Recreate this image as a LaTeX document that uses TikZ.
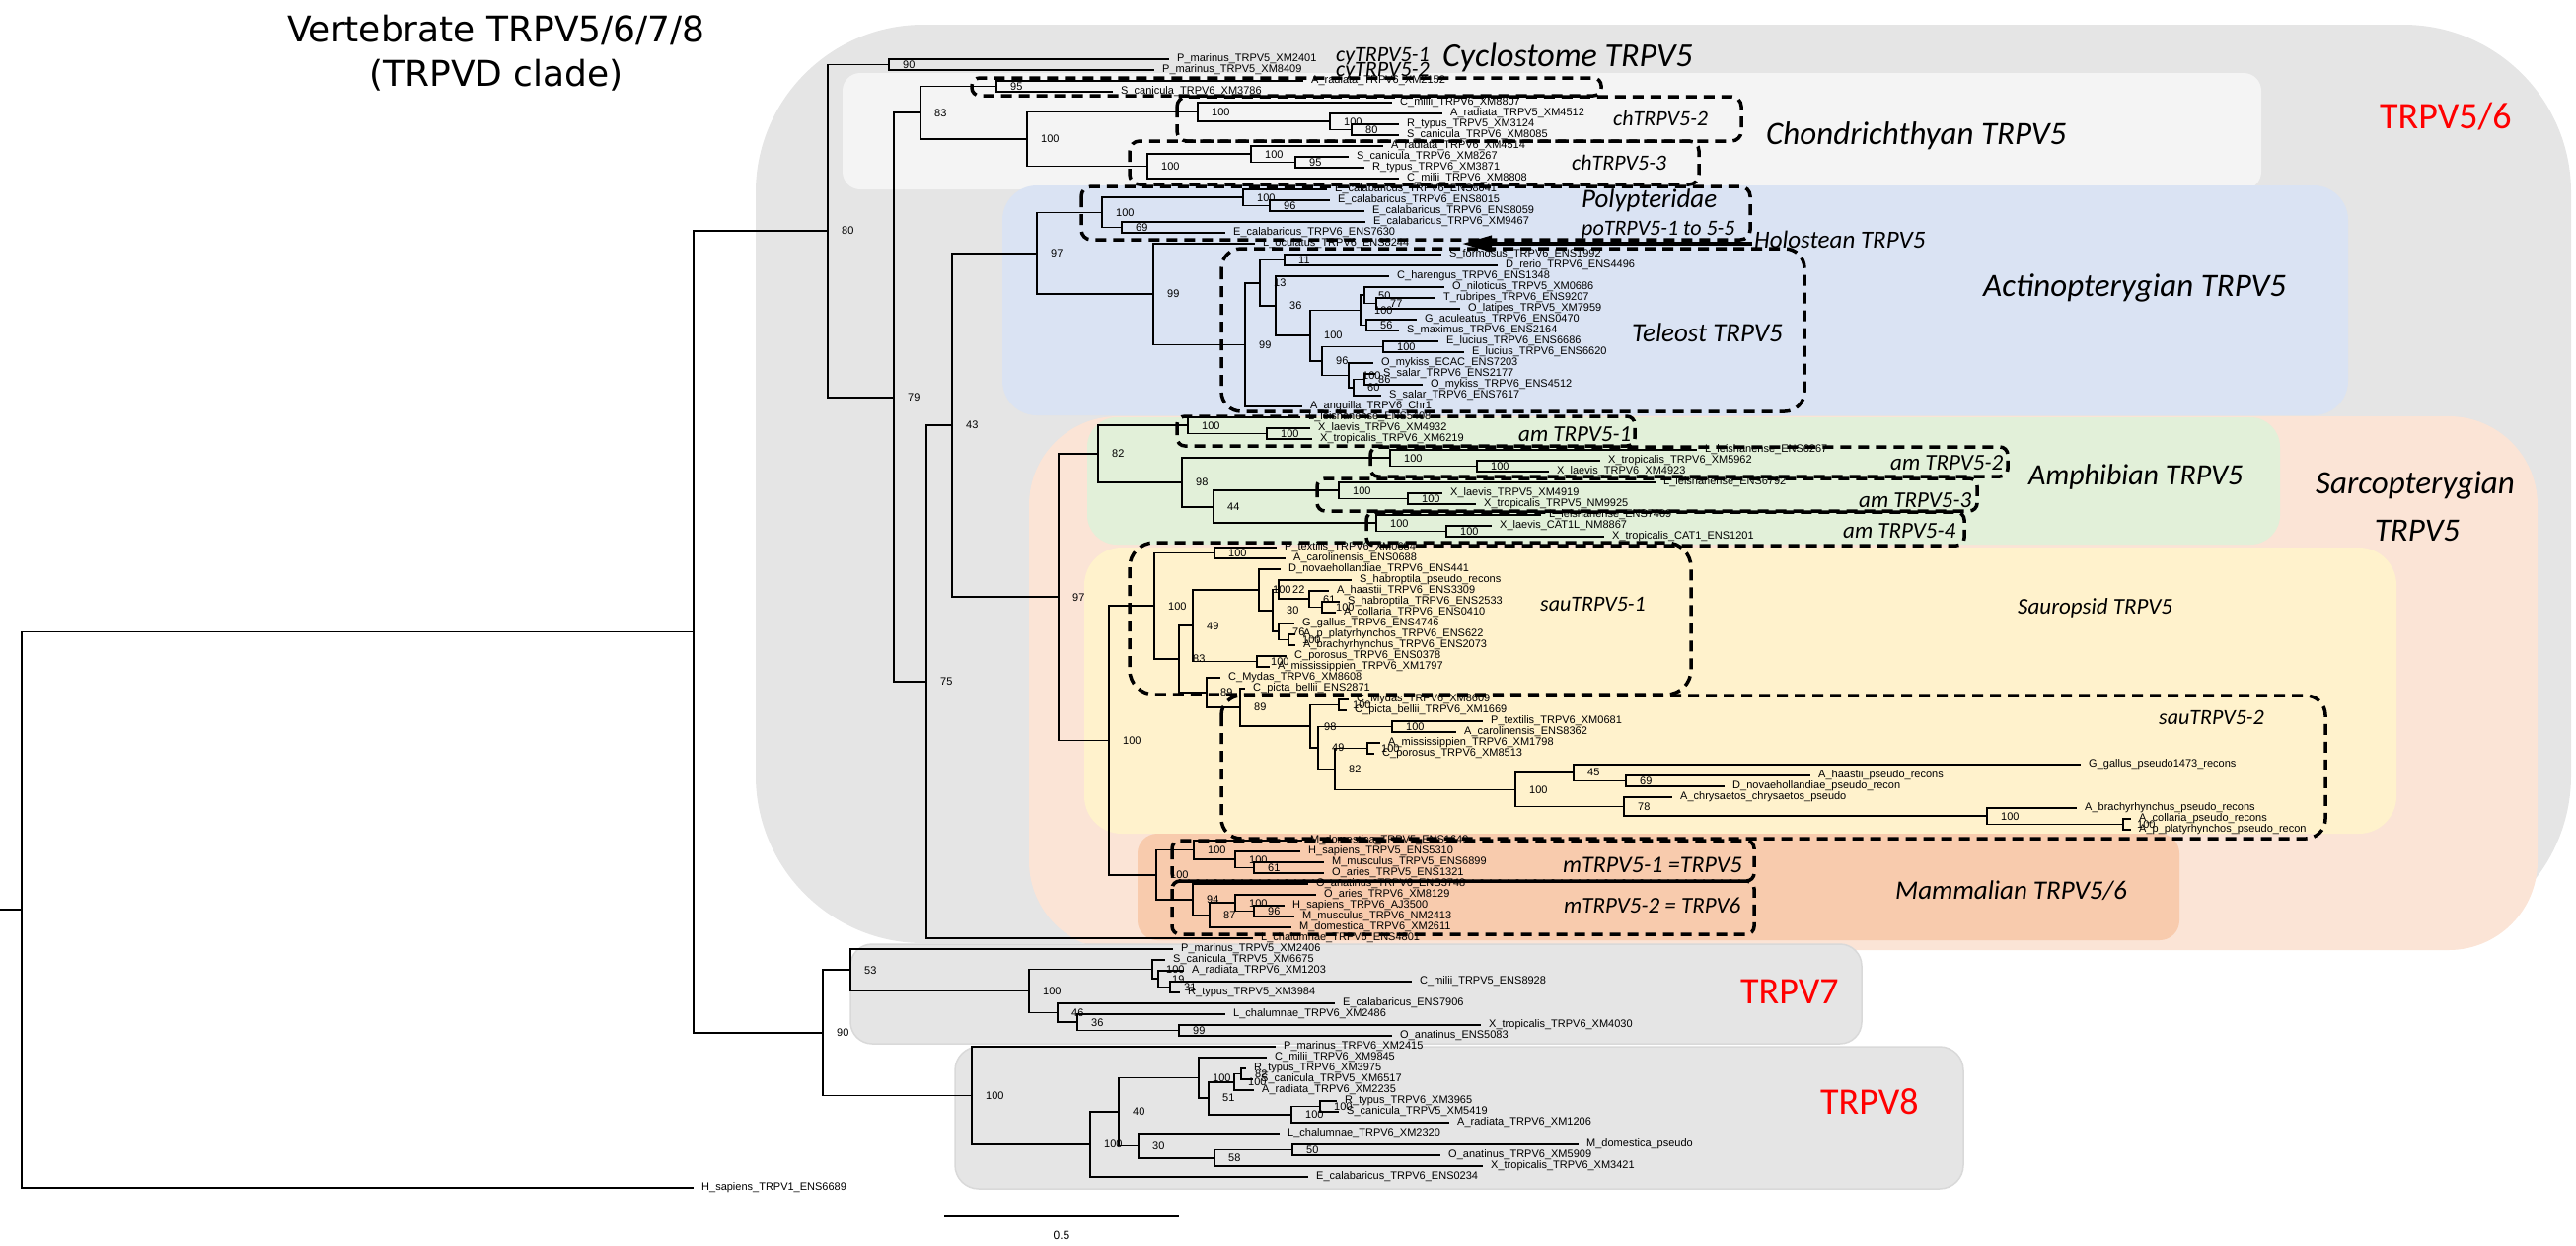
\documentclass[tikz,border=0pt]{standalone}
\usepackage{fontspec}
\setmainfont{Liberation Sans}
\newfontfamily\carl{Carlito}
\newfontfamily\dejv{DejaVu Sans}
\usetikzlibrary{arrows.meta}
\definecolor{gbox}{HTML}{E5E5E5}
\definecolor{chbox}{HTML}{F4F4F4}
\definecolor{bluebox}{HTML}{DAE3F3}
\definecolor{salbox}{HTML}{FBE4D6}
\definecolor{grnbox}{HTML}{E2F0D9}
\definecolor{yelbox}{HTML}{FFF2CC}
\definecolor{orgbox}{HTML}{F8CBAD}
\definecolor{boxedge}{HTML}{D9D9D9}
\definecolor{redlab}{HTML}{FF0000}
\newcommand\LY[1]{49+11*(#1)}
\newcommand\trnode[5]{\coordinate (#1) at (#3,{\LY{#4}});\draw[br] (#2) |- (#1);\node[sup] (s#1) at (#1) {#5};}
\newcommand\trleaf[4]{\node[lfl] (L#3) at (#2,{\LY{#3}}) {#4};\draw[br] (#1) |- (L#3.west);}
\tikzset{
 br/.style={line width=1.7pt},
 lfl/.style={anchor=west, inner xsep=8pt, inner ysep=0pt, font=\fontsize{11}{11}\selectfont},
 sup/.style={anchor=west, xshift=14pt, inner sep=0pt, font=\fontsize{11}{11}\selectfont},
 grp/.style={anchor=west, inner sep=0pt},
 dbox/.style={line width=3.5pt, dash pattern=on 11pt off 7pt},
 bgbox/.style={rounded corners=#1},
}
\newcommand\gi[1]{\carl\itshape\fontsize{#1}{#1}\selectfont}
\newcommand\gr[1]{\carl\fontsize{#1}{#1}\selectfont}
\begin{document}
\begin{tikzpicture}[x=1pt,y=-1pt]
\useasboundingbox (0,0) rectangle (2611,1262);
% ---------- background boxes
\fill[gbox, bgbox=170pt] (766,25) rectangle (2606,956);
\fill[chbox, bgbox=18pt] (854,74) rectangle (2292,192);
\fill[bluebox, bgbox=35pt] (1016,188) rectangle (2380,421);
\fill[salbox, bgbox=90pt] (1043,422) rectangle (2572,963);
\fill[grnbox, bgbox=30pt] (1102,423) rectangle (2311,552);
\fill[yelbox, bgbox=38pt] (1099,555) rectangle (2429,845);
\fill[orgbox, bgbox=20pt] (1153,845) rectangle (2209,953);
\filldraw[fill=gbox, draw=boxedge, line width=1.5pt, bgbox=22pt] (862,957) rectangle (1887,1058);
\filldraw[fill=gbox, draw=boxedge, line width=1.5pt, bgbox=24pt] (968,1061) rectangle (1990,1205);
% ---------- title
\node[font=\dejv\fontsize{36}{36}\selectfont, inner sep=0pt] (title1) at (503,30) {Vertebrate TRPV5/6/7/8};
\node[font=\dejv\fontsize{36}{36}\selectfont, inner sep=0pt] (title2) at (503,76) {(TRPVD clade)};
% ---------- tree
\coordinate (Root) at (22,{\LY{79.386}});
\coordinate (stub) at (0,{\LY{79.386}});
\draw[br] (stub) -- (Root);
\coordinate (A) at (703,{\LY{53.772}});
\draw[br] (Root) |- (A);
\trleaf{Root}{703}{105}{H\_sapiens\_TRPV1\_ENS6689}
\trnode{B}{A}{839}{16.826}{80}
\trnode{Ncy}{B}{901}{1.5}{90}
\trleaf{Ncy}{1185}{1}{P\_marinus\_TRPV5\_XM2401}
\trleaf{Ncy}{1170}{2}{P\_marinus\_TRPV5\_XM8409}
\trnode{N79}{B}{906}{32.152}{79}
\trnode{N83}{N79}{933}{5.9375}{83}
\trnode{N95a}{N83}{1010}{3.5}{95}
\trleaf{N95a}{1321}{3}{A\_radiata\_TRPV6\_XM2152}
\trleaf{N95a}{1128}{4}{S\_canicula\_TRPV6\_XM3786}
\trnode{Nch}{N83}{1041}{8.375}{100}
\trnode{Nch2}{Nch}{1214}{5.875}{100}
\trleaf{Nch2}{1411}{5}{C\_milii\_TRPV6\_XM8807}
\trnode{Nch2b}{Nch2}{1348}{6.75}{100}
\trleaf{Nch2b}{1462}{6}{A\_radiata\_TRPV5\_XM4512}
\trnode{N80}{Nch2b}{1370}{7.5}{80}
\trleaf{N80}{1418}{7}{R\_typus\_TRPV5\_XM3124}
\trleaf{N80}{1418}{8}{S\_canicula\_TRPV6\_XM8085}
\trnode{Nch3}{Nch}{1163}{10.875}{100}
\trnode{Nch3b}{Nch3}{1268}{9.75}{100}
\trleaf{Nch3b}{1402}{9}{A\_radiata\_TRPV6\_XM4514}
\trnode{N95b}{Nch3b}{1313}{10.5}{95}
\trleaf{N95b}{1367}{10}{S\_canicula\_TRPV6\_XM8267}
\trleaf{N95b}{1383}{11}{R\_typus\_TRPV6\_XM3871}
\trleaf{Nch3}{1418}{12}{C\_milii\_TRPV6\_XM8808}
\trnode{N75}{N79}{939}{58.366}{75}
\trleaf{N75}{1270}{82}{L\_chalumnae\_TRPV6\_ENS4801}
\trnode{N43}{N75}{965}{34.732}{43}
\trnode{Nact}{N43}{1051}{18.890}{97}
\trnode{Npoly}{Nact}{1117}{15.125}{100}
\trnode{Np1}{Npoly}{1260}{13.75}{100}
\trleaf{Np1}{1345}{13}{E\_calabaricus\_TRPV6\_ENS8041}
\trnode{N96p}{Np1}{1287}{14.5}{96}
\trleaf{N96p}{1348}{14}{E\_calabaricus\_TRPV6\_ENS8015}
\trleaf{N96p}{1383}{15}{E\_calabaricus\_TRPV6\_ENS8059}
\trnode{N69}{Npoly}{1137}{16.5}{69}
\trleaf{N69}{1384}{16}{E\_calabaricus\_TRPV6\_XM9467}
\trleaf{N69}{1242}{17}{E\_calabaricus\_TRPV6\_ENS7630}
\trnode{N99h}{Nact}{1169}{22.654}{99}
\trleaf{N99h}{1272}{18}{L\_oculatus\_TRPV6\_ENS8244}
\trnode{Ntel}{N99h}{1262}{27.309}{99}
\trleaf{Ntel}{1320}{33}{A\_anguilla\_TRPV6\_Chr1}
\trnode{N13}{Ntel}{1277}{21.617}{13}
\trnode{N11}{N13}{1302}{19.5}{11}
\trleaf{N11}{1461}{19}{S\_formosus\_TRPV6\_ENS1992}
\trleaf{N11}{1518}{20}{D\_rerio\_TRPV6\_ENS4496}
\trnode{N36}{N13}{1293}{23.734}{36}
\trleaf{N36}{1408}{21}{C\_harengus\_TRPV6\_ENS1348}
\trnode{N100t}{N36}{1328}{26.469}{100}
\trnode{Nperc}{N100t}{1379}{24.125}{100}
\trnode{N50}{Nperc}{1383}{22.75}{50}
\trleaf{N50}{1464}{22}{O\_niloticus\_TRPV5\_XM0686}
\trnode{N77}{N50}{1395}{23.5}{77}
\trleaf{N77}{1455}{23}{T\_rubripes\_TRPV6\_ENS9207}
\trleaf{N77}{1480}{24}{O\_latipes\_TRPV5\_XM7959}
\trnode{N56}{Nperc}{1385}{25.5}{56}
\trleaf{N56}{1436}{25}{G\_aculeatus\_TRPV6\_ENS0470}
\trleaf{N56}{1418}{26}{S\_maximus\_TRPV6\_ENS2164}
\trnode{N96t}{N100t}{1340}{28.8125}{96}
\trnode{Nluc}{N96t}{1402}{27.5}{100}
\trleaf{Nluc}{1458}{27}{E\_lucius\_TRPV6\_ENS6686}
\trleaf{Nluc}{1484}{28}{E\_lucius\_TRPV6\_ENS6620}
\trnode{Nsalm}{N96t}{1367}{30.125}{100}
\trleaf{Nsalm}{1392}{29}{O\_mykiss\_ECAC\_ENS7203}
\trnode{N60}{Nsalm}{1372}{31.25}{60}
\trnode{N86}{N60}{1383}{30.5}{86}
\trleaf{N86}{1394}{30}{S\_salar\_TRPV6\_ENS2177}
\trleaf{N86}{1442}{31}{O\_mykiss\_TRPV6\_ENS4512}
\trleaf{N60}{1400}{32}{S\_salar\_TRPV6\_ENS7617}
% sarcopterygians
\trnode{Nsar}{N43}{1073}{50.575}{97}
\trnode{N82}{Nsar}{1113}{37.375}{82}
\trnode{Na1}{N82}{1204}{34.75}{100}
\trleaf{Na1}{1318}{34}{L\_leishanense\_ENS5408}
\trnode{Na1b}{Na1}{1284}{35.5}{100}
\trleaf{Na1b}{1328}{35}{X\_laevis\_TRPV6\_XM4932}
\trleaf{Na1b}{1330}{36}{X\_tropicalis\_TRPV6\_XM6219}
\trnode{N98}{N82}{1198}{40}{98}
\trnode{Na2}{N98}{1409}{37.75}{100}
\trleaf{Na2}{1720}{37}{L\_leishanense\_ENS6267}
\trnode{Na2b}{Na2}{1497}{38.5}{100}
\trleaf{Na2b}{1622}{38}{X\_tropicalis\_TRPV6\_XM5962}
\trleaf{Na2b}{1570}{39}{X\_laevis\_TRPV6\_XM4923}
\trnode{N44}{N98}{1230}{42.25}{44}
\trnode{Na3}{N44}{1357}{40.75}{100}
\trleaf{Na3}{1678}{40}{L\_leishanense\_ENS6792}
\trnode{Na3b}{Na3}{1427}{41.5}{100}
\trleaf{Na3b}{1462}{41}{X\_laevis\_TRPV5\_XM4919}
\trleaf{Na3b}{1496}{42}{X\_tropicalis\_TRPV5\_NM9925}
\trnode{Na4}{N44}{1395}{43.75}{100}
\trleaf{Na4}{1562}{43}{L\_leishanense\_ENS7409}
\trnode{Na4b}{Na4}{1466}{44.5}{100}
\trleaf{Na4b}{1512}{44}{X\_laevis\_CAT1L\_NM8867}
\trleaf{Na4b}{1626}{45}{X\_tropicalis\_CAT1\_ENS1201}
\trnode{N100sm}{Nsar}{1124}{63.775}{100}
\trnode{Nsau}{N100sm}{1170}{51.393}{100}
\trnode{Nsq}{Nsau}{1231}{46.5}{100}
\trleaf{Nsq}{1294}{46}{P\_textilis\_TRPV6\_XM0684}
\trleaf{Nsq}{1303}{47}{A\_carolinensis\_ENS0688}
\trnode{N83s}{Nsau}{1195}{56.286}{83}
\trnode{N49}{N83s}{1209}{53.203}{49}
\trnode{Nbird}{N49}{1276}{49.906}{100}
\trleaf{Nbird}{1298}{48}{D\_novaehollandiae\_TRPV6\_ENS441}
\trnode{N30}{Nbird}{1290}{51.8125}{30}
\trnode{N22}{N30}{1296}{49.875}{22}
\trleaf{N22}{1370}{49}{S\_habroptila\_pseudo\_recons}
\trnode{N61}{N22}{1327}{50.75}{61}
\trleaf{N61}{1347}{50}{A\_haastii\_TRPV6\_ENS3309}
\trnode{Nhc}{N61}{1340}{51.5}{100}
\trleaf{Nhc}{1358}{51}{S\_habroptila\_TRPV6\_ENS2533}
\trleaf{Nhc}{1354}{52}{A\_collaria\_TRPV6\_ENS0410}
\trnode{Ngall}{N30}{1296}{53.75}{76}
\trleaf{Ngall}{1312}{53}{G\_gallus\_TRPV6\_ENS4746}
\trnode{Ndg}{Ngall}{1306}{54.5}{100}
\trleaf{Ndg}{1313}{54}{A\_p\_platyrhynchos\_TRPV6\_ENS622}
\trleaf{Ndg}{1313}{55}{A\_brachyrhynchus\_TRPV6\_ENS2073}
\trnode{Ncroc}{N49}{1274}{56.5}{100}
\trleaf{Ncroc}{1304}{56}{C\_porosus\_TRPV6\_ENS0378}
\trleaf{Ncroc}{1287}{57}{A\_mississippien\_TRPV6\_XM1797}
\trnode{Nt1}{N83s}{1223}{59.369}{89}
\trleaf{Nt1}{1237}{58}{C\_Mydas\_TRPV6\_XM8608}
\trnode{Nt2}{Nt1}{1257}{60.738}{89}
\trleaf{Nt2}{1262}{59}{C\_picta\_bellii\_ENS2871}
\trnode{N98s}{Nt2}{1328}{62.477}{98}
\trnode{Nt4}{N98s}{1357}{60.5}{100}
\trleaf{Nt4}{1367}{60}{C\_Mydas\_TRPV6\_XM8609}
\trleaf{Nt4}{1365}{61}{C\_picta\_bellii\_TRPV6\_XM1669}
\trnode{N49b}{N98s}{1336}{64.453}{49}
\trnode{Nsq2}{N49b}{1411}{62.5}{100}
\trleaf{Nsq2}{1503}{62}{P\_textilis\_TRPV6\_XM0681}
\trleaf{Nsq2}{1476}{63}{A\_carolinensis\_ENS8362}
\trnode{N82s}{N49b}{1353}{66.406}{82}
\trnode{Ncr2}{N82s}{1386}{64.5}{100}
\trleaf{Ncr2}{1399}{64}{A\_mississippien\_TRPV6\_XM1798}
\trleaf{Ncr2}{1393}{65}{C\_porosus\_TRPV6\_XM8513}
\trnode{Npseudo}{N82s}{1536}{68.3125}{100}
\trnode{N45}{Npseudo}{1595}{66.75}{45}
\trleaf{N45}{2109}{66}{G\_gallus\_pseudo1473\_recons}
\trnode{N69b}{N45}{1648}{67.5}{69}
\trleaf{N69b}{1835}{67}{A\_haastii\_pseudo\_recons}
\trleaf{N69b}{1748}{68}{D\_novaehollandiae\_pseudo\_recon}
\trnode{N78}{Npseudo}{1646}{69.875}{78}
\trleaf{N78}{1695}{69}{A\_chrysaetos\_chrysaetos\_pseudo}
\trnode{N100p}{N78}{2014}{70.75}{100}
\trleaf{N100p}{2105}{70}{A\_brachyrhynchus\_pseudo\_recons}
\trnode{N100q}{N100p}{2152}{71.5}{100}
\trleaf{N100q}{2160}{71}{A\_collaria\_pseudo\_recons}
\trleaf{N100q}{2160}{72}{A\_p\_platyrhynchos\_pseudo\_recon}
\trnode{Nmam}{N100sm}{1172}{76.156}{100}
\trnode{Nm5}{Nmam}{1210}{73.875}{100}
\trleaf{Nm5}{1320}{73}{M\_domestica\_TRPV5\_ENS1649}
\trnode{Nm5b}{Nm5}{1252}{74.75}{100}
\trleaf{Nm5b}{1318}{74}{H\_sapiens\_TRPV5\_ENS5310}
\trnode{N61m}{Nm5b}{1271}{75.5}{61}
\trleaf{N61m}{1342}{75}{M\_musculus\_TRPV5\_ENS6899}
\trleaf{N61m}{1342}{76}{O\_aries\_TRPV5\_ENS1321}
\trnode{N94}{Nmam}{1209}{78.4375}{94}
\trleaf{N94}{1326}{77}{O\_anatinus\_TRPV6\_ENS3748}
\trnode{N87}{N94}{1226}{79.875}{87}
\trnode{N100m6}{N87}{1252}{78.75}{100}
\trleaf{N100m6}{1334}{78}{O\_aries\_TRPV6\_XM8129}
\trnode{N96m}{N100m6}{1271}{79.5}{96}
\trleaf{N96m}{1302}{79}{H\_sapiens\_TRPV6\_AJ3500}
\trleaf{N96m}{1312}{80}{M\_musculus\_TRPV6\_NM2413}
\trleaf{N87}{1309}{81}{M\_domestica\_TRPV6\_XM2611}
% TRPV7 / TRPV8
\trnode{N90}{A}{834}{90.719}{90}
\trnode{N53}{N90}{862}{84.9375}{53}
\trleaf{N53}{1189}{83}{P\_marinus\_TRPV5\_XM2406}
\trnode{N100s7}{N53}{1043}{86.875}{100}
\trnode{Nch7}{N100s7}{1168}{84.875}{100}
\trleaf{Nch7}{1181}{84}{S\_canicula\_TRPV5\_XM6675}
\trnode{N19}{Nch7}{1174}{85.75}{19}
\trleaf{N19}{1200}{85}{A\_radiata\_TRPV6\_XM1203}
\trnode{N31}{N19}{1186}{86.5}{31}
\trleaf{N31}{1431}{86}{C\_milii\_TRPV5\_ENS8928}
\trleaf{N31}{1196}{87}{R\_typus\_TRPV5\_XM3984}
\trnode{N46}{N100s7}{1072}{88.875}{46}
\trleaf{N46}{1353}{88}{E\_calabaricus\_ENS7906}
\trnode{N36b}{N46}{1092}{89.75}{36}
\trleaf{N36b}{1242}{89}{L\_chalumnae\_TRPV6\_XM2486}
\trnode{N99b}{N36b}{1195}{90.5}{99}
\trleaf{N99b}{1501}{90}{X\_tropicalis\_TRPV6\_XM4030}
\trleaf{N99b}{1411}{91}{O\_anatinus\_ENS5083}
\trnode{N100s8}{N90}{985}{96.5}{100}
\trleaf{N100s8}{1293}{92}{P\_marinus\_TRPV6\_XM2415}
\trnode{Nx}{N100s8}{1105}{101}{100}
\trnode{N40}{Nx}{1134}{98}{40}
\trnode{Ncm}{N40}{1215}{94.875}{100}
\trleaf{Ncm}{1284}{93}{C\_milii\_TRPV6\_XM9845}
\trnode{N51}{Ncm}{1225}{96.75}{51}
\trnode{N100c}{N51}{1251}{95.25}{100}
\trnode{N82b}{N100c}{1258}{94.5}{82}
\trleaf{N82b}{1263}{94}{R\_typus\_TRPV6\_XM3975}
\trleaf{N82b}{1270}{95}{S\_canicula\_TRPV5\_XM6517}
\trleaf{N100c}{1271}{96}{A\_radiata\_TRPV6\_XM2235}
\trnode{N100d}{N51}{1309}{98.25}{100}
\trnode{N100e}{N100d}{1338}{97.5}{100}
\trleaf{N100e}{1355}{97}{R\_typus\_TRPV6\_XM3965}
\trleaf{N100e}{1357}{98}{S\_canicula\_TRPV5\_XM5419}
\trleaf{N100d}{1469}{99}{A\_radiata\_TRPV6\_XM1206}
\trnode{N30b}{N40}{1154}{101.125}{30}
\trleaf{N30b}{1297}{100}{L\_chalumnae\_TRPV6\_XM2320}
\trnode{N58}{N30b}{1231}{102.25}{58}
\trnode{N50b}{N58}{1310}{101.5}{50}
\trleaf{N50b}{1600}{101}{M\_domestica\_pseudo}
\trleaf{N50b}{1460}{102}{O\_anatinus\_TRPV6\_XM5909}
\trleaf{N58}{1503}{103}{X\_tropicalis\_TRPV6\_XM3421}
\trleaf{Nx}{1326}{104}{E\_calabaricus\_TRPV6\_ENS0234}
% ---------- dashed group boxes
\draw[dbox, rounded corners=8pt] (985,79) rectangle (1623,97);
\draw[dbox, rounded corners=10pt] (1193,98) rectangle (1765,143);
\draw[dbox, rounded corners=10pt] (1145,143) rectangle (1722,187);
\draw[dbox, rounded corners=10pt] (1096,189) rectangle (1774,243);
\draw[dbox, rounded corners=20pt] (1238,252) rectangle (1829,417);
\draw[dbox, rounded corners=8pt] (1193,422) rectangle (1657,452);
\draw[dbox, rounded corners=8pt] (1389,453) rectangle (2035,483);
\draw[dbox, rounded corners=8pt] (1335,485) rectangle (2004,518);
\draw[dbox, rounded corners=8pt] (1385,519) rectangle (1991,553);
\draw[dbox, rounded corners=25pt] (1145,550) rectangle (1714,704);
\draw[dbox, rounded corners=20pt] (1238,705) rectangle (2357,850);
\draw[dbox, rounded corners=8pt] (1188,852) rectangle (1778,893);
\draw[dbox, rounded corners=8pt] (1188,893) rectangle (1778,947);
% ---------- Holostean arrow
\coordinate (arT) at (1776,247);
\coordinate (arH) at (1482,247);
\draw[line width=4pt, -{Triangle[length=30pt,width=16pt]}] (arT) -- (arH);
% ---------- group labels
\node[grp, font=\gi{22}] (gcy1) at (1354,57) {cyTRPV5-1};
\node[grp, font=\gi{22}] (gcy2) at (1354,72) {cyTRPV5-2};
\node[grp, font=\gi{34}] (gcyc) at (1462,58) {Cyclostome TRPV5};
\node[grp, font=\gi{22}] (gch2) at (1635,120) {chTRPV5-2};
\node[grp, font=\gi{22}] (gch3) at (1593,165) {chTRPV5-3};
\node[grp, font=\gi{33}] (gchon) at (1790,138) {Chondrichthyan TRPV5};
\node[grp, font=\gr{38}, text=redlab] (g56) at (2412,118) {TRPV5/6};
\node[grp, font=\gi{27}] (gpoly) at (1603,203) {Polypteridae};
\node[grp, font=\gi{22}] (gpo) at (1603,233) {poTRPV5-1 to 5-5};
\node[grp, font=\gi{25}] (ghol) at (1778,243) {Holostean TRPV5};
\node[grp, font=\gi{33}] (gact) at (2010,292) {Actinopterygian TRPV5};
\node[grp, font=\gi{27}] (gtel) at (1654,337) {Teleost TRPV5};
\node[grp, font=\gi{23}] (gam1) at (1539,440) {am TRPV5-1};
\node[grp, font=\gi{23}] (gam2) at (1916,469) {am TRPV5-2};
\node[grp, font=\gi{23}] (gam3) at (1884,507) {am TRPV5-3};
\node[grp, font=\gi{23}] (gam4) at (1868,538) {am TRPV5-4};
\node[grp, font=\gi{30}] (gamph) at (2056,483) {Amphibian TRPV5};
\node[inner sep=0pt, font=\gi{33}] (gsar1) at (2448,492) {Sarcopterygian};
\node[inner sep=0pt, font=\gi{33}] (gsar2) at (2450,538) {TRPV5};
\node[grp, font=\gi{22}] (gsau1) at (1561,612) {sauTRPV5-1};
\node[grp, font=\gi{23}] (gsaur) at (2045,616) {Sauropsid TRPV5};
\node[grp, font=\gi{22}] (gsau2) at (2188,727) {sauTRPV5-2};
\node[grp, font=\gi{24}] (gm1) at (1584,877) {mTRPV5-1 =TRPV5};
\node[grp, font=\gi{23}] (gm2) at (1585,918) {mTRPV5-2 = TRPV6};
\node[grp, font=\gi{27}] (gmam) at (1921,903) {Mammalian TRPV5/6};
\node[grp, font=\gr{38}, text=redlab] (g7) at (1764,1005) {TRPV7};
\node[grp, font=\gr{38}, text=redlab] (g8) at (1845,1117) {TRPV8};
% ---------- scale bar
\coordinate (sb1) at (957,1233);
\coordinate (sb2) at (1195,1233);
\draw[line width=1.4pt] (sb1) -- (sb2);
\node[inner sep=0pt, font=\fontsize{12}{12}\selectfont] (sbl) at (1076,1252) {0.5};
\end{tikzpicture}
\end{document}
